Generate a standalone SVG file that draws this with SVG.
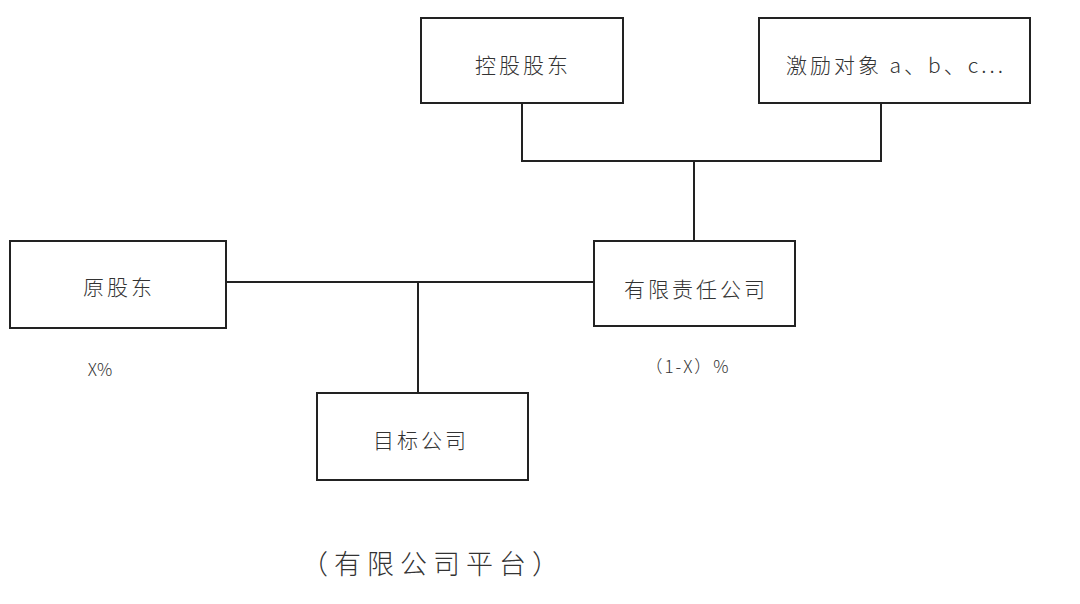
<svg xmlns="http://www.w3.org/2000/svg" width="1080" height="604" viewBox="0 0 1080 604">
<style>
.box{fill:#fff;stroke:#222;stroke-width:2}
.t{font-family:"Noto Sans CJK SC","Liberation Sans",sans-serif;font-size:21px;fill:#333;text-anchor:middle;dominant-baseline:central;letter-spacing:3px;font-weight:300}
.s{font-family:"Noto Sans CJK SC","Liberation Sans",sans-serif;font-size:17px;fill:#333;text-anchor:middle;dominant-baseline:central;font-weight:300}
.c{fill:none;stroke:#222;stroke-width:2}
</style>
<rect width="1080" height="604" fill="#fff"/>
<g id="connectors">
<polyline class="c" points="522,103 522,161 881,161 881,103"/>
<line class="c" x1="694" y1="161" x2="694" y2="241"/>
<line class="c" x1="226" y1="282" x2="594" y2="282"/>
<line class="c" x1="418" y1="282" x2="418" y2="393"/>
</g>
<g id="n1"><rect class="box" x="421" y="18" width="202" height="85"/><text class="t" x="523" y="64">控股股东</text></g>
<g id="n2"><rect class="box" x="759" y="18" width="271" height="85"/><text class="t" x="896" y="64">激励对象 a、b、c...</text></g>
<g id="n3"><rect class="box" x="10" y="241" width="216" height="87"/><text class="t" x="119" y="286">原股东</text></g>
<g id="n4"><rect class="box" x="594" y="241" width="201" height="85"/><text class="t" x="696" y="288">有限责任公司</text></g>
<g id="n5"><rect class="box" x="317" y="393" width="211" height="87"/><text class="t" x="421" y="439">目标公司</text></g>
<text class="s" x="100" y="368">X%</text>
<text class="s" x="688" y="365" letter-spacing="2">（1-X）%</text>
<text class="t" x="433" y="562" style="font-size:27px;letter-spacing:6px">（有限公司平台）</text>
</svg>
